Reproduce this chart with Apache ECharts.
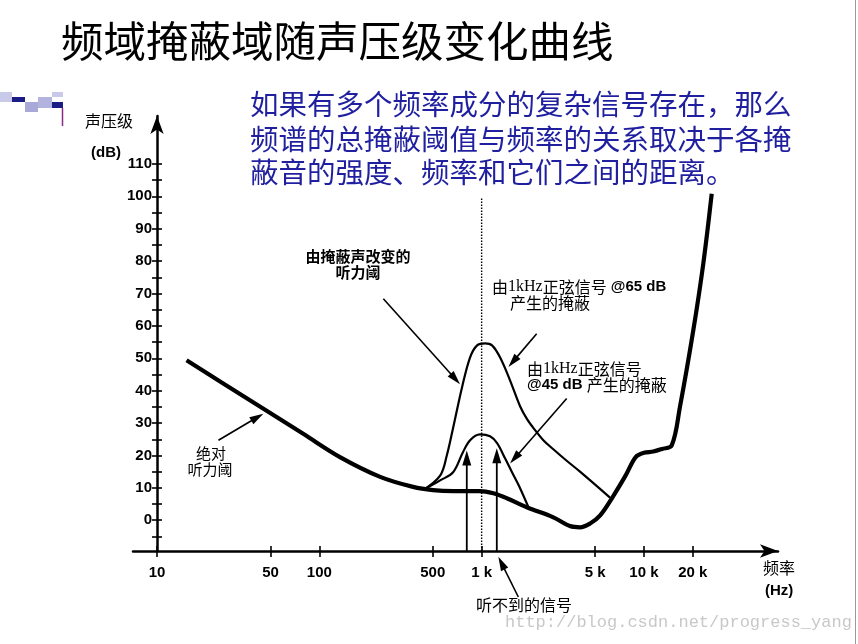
<!DOCTYPE html>
<html><head><meta charset="utf-8">
<script src="https://cdn.jsdelivr.net/npm/echarts@6/dist/echarts.min.js"></script>
<style>html,body{margin:0;padding:0;background:#fff}#c{width:858px;height:644px}</style>
</head><body><div id="c"></div>
<script>
// ---- data (frequency in Hz, level in dB) ----
const thresholdFreq = [15.2, 25, 45, 80, 134, 237, 378, 501, 670, 977, 1181, 1428, 1898, 2766, 3500, 4036, 4660, 5375, 6457, 7750, 8900, 10000, 11430, 12920, 14830, 16670, 20140, 23210, 26160];
const thresholdDb   = [49.4, 42.5, 34.5, 26.6, 19.5, 13.4, 10.3, 9.3, 9.0, 9.0, 8.3, 6.8, 4.0, 0.9, -1.8, -2.2, -1.0, 1.5, 7.4, 14.0, 19.5, 20.8, 21.2, 22.0, 23.1, 35.0, 58.6, 79.2, 100.8];
const mask65Freq = [435, 555, 610, 667, 757, 849, 938, 1050, 1159, 1298, 1496, 1725, 1905, 2075, 2400, 2754, 3300, 4037, 6180];
const mask65Db   = [9.3, 13.8, 20.0, 28.5, 41.0, 50.3, 54.0, 54.6, 54.0, 50.3, 43.2, 35.2, 31.2, 28.6, 24.7, 22.0, 18.6, 15.0, 7.0];
const mask45Freq = [435, 555, 667, 767, 849, 977, 1127, 1245, 1394, 1539, 1725, 1932];
const mask45Db   = [9.3, 12.3, 14.8, 21.0, 24.7, 26.5, 25.9, 23.8, 19.1, 14.8, 9.9, 4.3];
const signalFreq = [810, 1240];
const signalDb   = [21.5, 22.2];
const maskerFreq = 1000;
const maskerLineTopDb = 99.4;
// annotation arrows: [fromHz, fromDb, toHz, toDb]
const annotationArrows = [
  [248, 68.4, 736, 42.0],
  [2183, 57.6, 1462, 47.3],
  [3342, 37.6, 1496, 17.5],
  [23.9, 24.7, 45.2, 32.9],
  [1683, -23.7, 1268, -11.3]
];
const xTickFreq  = [10, 50, 100, 500, 1000, 5000, 10000, 20000];
const xTickLabel = ['10', '50', '100', '500', '1 k', '5 k', '10 k', '20 k'];
const yTickValues  = [-5, 0, 5, 10, 15, 20, 25, 30, 35, 40, 45, 50, 55, 60, 65, 70, 75, 80, 85, 90, 95, 100, 105, 110];
const yLabelValues = [0, 10, 20, 30, 40, 50, 60, 70, 80, 90, 100, 110];
const X_MIN_HZ = 7.11, X_MAX_HZ = 67000, Y_MIN = -9.5, Y_MAX = 124.8;

const lg = Math.log10;
const pairs = (fs, ds) => fs.map((f, i) => [lg(f), ds[i]]);

function arrowRender(L, W, lw) {
  return function (params, api) {
    const p1 = api.coord([api.value(0), api.value(1)]);
    const p2 = api.coord([api.value(2), api.value(3)]);
    const dx = p2[0] - p1[0], dy = p2[1] - p1[1];
    const len = Math.hypot(dx, dy), ux = dx / len, uy = dy / len;
    const bx = p2[0] - ux * L, by = p2[1] - uy * L;
    return {
      type: 'group',
      children: [
        { type: 'line', shape: { x1: p1[0], y1: p1[1], x2: bx + ux * 2, y2: by + uy * 2 }, style: { stroke: '#000', lineWidth: lw } },
        { type: 'polygon', shape: { points: [[p2[0], p2[1]], [bx - uy * W, by + ux * W], [bx + uy * W, by - ux * W]] }, style: { fill: '#000' } }
      ]
    };
  };
}

const CJK = "'Noto Sans CJK SC', sans-serif";
const NUM = "'Liberation Sans', Arial, sans-serif";

function txt(x, y, text, size, opts) {
  opts = opts || {};
  return {
    type: 'text', x: x, y: y, silent: true,
    style: Object.assign({
      text: text, fill: opts.fill || '#000', fontSize: size,
      fontFamily: opts.family || CJK, fontWeight: opts.weight || 'normal',
      textAlign: opts.align || 'left', textVerticalAlign: 'middle'
    }, opts.rich ? { rich: opts.rich } : {})
  };
}
const richLbl = {
  c: { fontFamily: CJK, fontSize: 16, fill: '#000' },
  l: { fontFamily: "'Liberation Serif', serif", fontSize: 16, fill: '#000' },
  b: { fontFamily: NUM, fontSize: 15, fontWeight: 'bold', fill: '#000' }
};

const xAxisBase = { type: 'value', min: lg(X_MIN_HZ), max: lg(X_MAX_HZ), position: 'bottom', splitLine: { show: false } };
const yAxisBase = { type: 'value', min: Y_MIN, max: Y_MAX, position: 'left', offset: -24, splitLine: { show: false } };

const option = {
  animation: false,
  backgroundColor: '#fff',
  grid: { left: 133, right: 80, top: 116, bottom: 93, containLabel: false },
  xAxis: [
    Object.assign({}, xAxisBase, {
      axisLine: { show: true, onZero: false, symbol: ['none', 'arrow'], symbolSize: [10, 18], lineStyle: { color: '#000', width: 2.5 } },
      axisTick: { show: true, inside: false, length: 6, customValues: xTickFreq.map(lg), lineStyle: { color: '#000', width: 1.6 } },
      axisLabel: {
        show: true, margin: 14, customValues: xTickFreq.map(lg), color: '#000', fontSize: 15, fontWeight: 'bold', fontFamily: NUM,
        formatter: function (v) {
          let best = 0;
          xTickFreq.forEach((f, i) => { if (Math.abs(lg(f) - v) < Math.abs(lg(xTickFreq[best]) - v)) best = i; });
          return xTickLabel[best];
        }
      }
    }),
    Object.assign({}, xAxisBase, {
      axisLine: { show: false, onZero: false },
      axisTick: { show: true, inside: true, length: 5, customValues: xTickFreq.map(lg), lineStyle: { color: '#000', width: 1.6 } },
      axisLabel: { show: false }
    })
  ],
  yAxis: [
    Object.assign({}, yAxisBase, {
      axisLine: { show: true, onZero: false, symbol: ['none', 'arrow'], symbolSize: [10, 18], lineStyle: { color: '#000', width: 2.5 } },
      axisTick: { show: true, inside: false, length: 5, customValues: yTickValues, lineStyle: { color: '#000', width: 1.6 } },
      axisLabel: { show: true, margin: 5, customValues: yLabelValues, color: '#000', fontSize: 15, fontWeight: 'bold', fontFamily: NUM }
    }),
    Object.assign({}, yAxisBase, {
      axisLine: { show: false, onZero: false },
      axisTick: { show: true, inside: true, length: 5, customValues: yTickValues, lineStyle: { color: '#000', width: 1.6 } },
      axisLabel: { show: false }
    })
  ],
  series: [
    { type: 'line', name: 'threshold', data: pairs(thresholdFreq, thresholdDb), showSymbol: false, symbol: 'none', smooth: 0.35,
      lineStyle: { color: '#000', width: 4.2 }, z: 5 },
    { type: 'line', name: 'mask65', data: pairs(mask65Freq, mask65Db), showSymbol: false, symbol: 'none', smooth: 0.35,
      lineStyle: { color: '#000', width: 2.2 }, z: 4 },
    { type: 'line', name: 'mask45', data: pairs(mask45Freq, mask45Db), showSymbol: false, symbol: 'none', smooth: 0.35,
      lineStyle: { color: '#000', width: 2.2 }, z: 4 },
    { type: 'line', name: 'masker', data: [[lg(maskerFreq), Y_MIN], [lg(maskerFreq), maskerLineTopDb]], showSymbol: false, symbol: 'none',
      lineStyle: { color: '#000', width: 1.4, type: [1.5, 1.5] }, z: 3 },
    { type: 'custom', name: 'signals', clip: false, renderItem: arrowRender(15, 4.5, 1.8),
      data: signalFreq.map((f, i) => [lg(f), Y_MIN, lg(f), signalDb[i]]), z: 6 },
    { type: 'custom', name: 'notes', clip: false, renderItem: arrowRender(14, 4, 1.6),
      data: annotationArrows.map(a => [lg(a[0]), a[1], lg(a[2]), a[3]]), z: 6 }
  ],
  graphic: [
    // slide decoration
    { type: 'rect', shape: { x: 0, y: 92, width: 12, height: 10 }, style: { fill: '#c9c9ea' } },
    { type: 'rect', shape: { x: 12, y: 97, width: 13, height: 5 }, style: { fill: '#1c1c86' } },
    { type: 'rect', shape: { x: 25, y: 102, width: 13, height: 10 }, style: { fill: '#a9a9d9' } },
    { type: 'rect', shape: { x: 38, y: 97, width: 14, height: 11 }, style: { fill: '#b3b3df' } },
    { type: 'rect', shape: { x: 52, y: 92, width: 11, height: 5 }, style: { fill: '#c9c9ea' } },
    { type: 'rect', shape: { x: 52, y: 102, width: 11, height: 6 }, style: { fill: '#1c1c86' } },
    { type: 'line', shape: { x1: 62.5, y1: 108, x2: 62.5, y2: 126 }, style: { stroke: '#8a2a8a', lineWidth: 1.5 } },
    { type: 'line', shape: { x1: 855.5, y1: 0, x2: 855.5, y2: 644 }, style: { stroke: '#9a9a9a', lineWidth: 1 } },
    // title & body
    txt(61, 41, '频域掩蔽域随声压级变化曲线', 42.5),
    txt(250, 104, '如果有多个频率成分的复杂信号存在，那么', 28.5, { fill: '#1f1fa0' }),
    txt(250, 139, '频谱的总掩蔽阈值与频率的关系取决于各掩', 28.5, { fill: '#1f1fa0' }),
    txt(250, 172, '蔽音的强度、频率和它们之间的距离。', 28.5, { fill: '#1f1fa0' }),
    // axis names
    txt(85, 121, '声压级', 16),
    txt(91, 153, '(dB)', 15, { family: NUM, weight: 'bold' }),
    txt(763, 568, '频率', 16),
    txt(765, 591, '(Hz)', 15, { family: NUM, weight: 'bold' }),
    // annotations
    txt(358, 256, '由掩蔽声改变的', 15, { align: 'center', weight: 'bold' }),
    txt(358, 272, '听力阈', 15, { align: 'center', weight: 'bold' }),
    txt(492, 287, '{c|由}{l|1kHz}{c|正弦信号}{b| @65 dB}', 16, { rich: richLbl }),
    txt(510, 303, '产生的掩蔽', 16),
    txt(527, 369, '{c|由}{l|1kHz}{c|正弦信号}', 16, { rich: richLbl }),
    txt(527, 385, '{b|@45 dB }{c|产生的掩蔽}', 16, { rich: richLbl }),
    txt(211, 453, '绝对', 15, { align: 'center' }),
    txt(210, 469, '听力阈', 15, { align: 'center' }),
    txt(476, 605, '听不到的信号', 16),
    // watermark
    txt(505, 622, 'http://blog.csdn.net/progress_yang', 17, { family: "'Liberation Mono', monospace", fill: '#c8c8c8' })
  ]
};
const chart = echarts.init(document.getElementById('c'), null, { renderer: 'canvas' });
chart.setOption(option);
</script>
</body></html>
